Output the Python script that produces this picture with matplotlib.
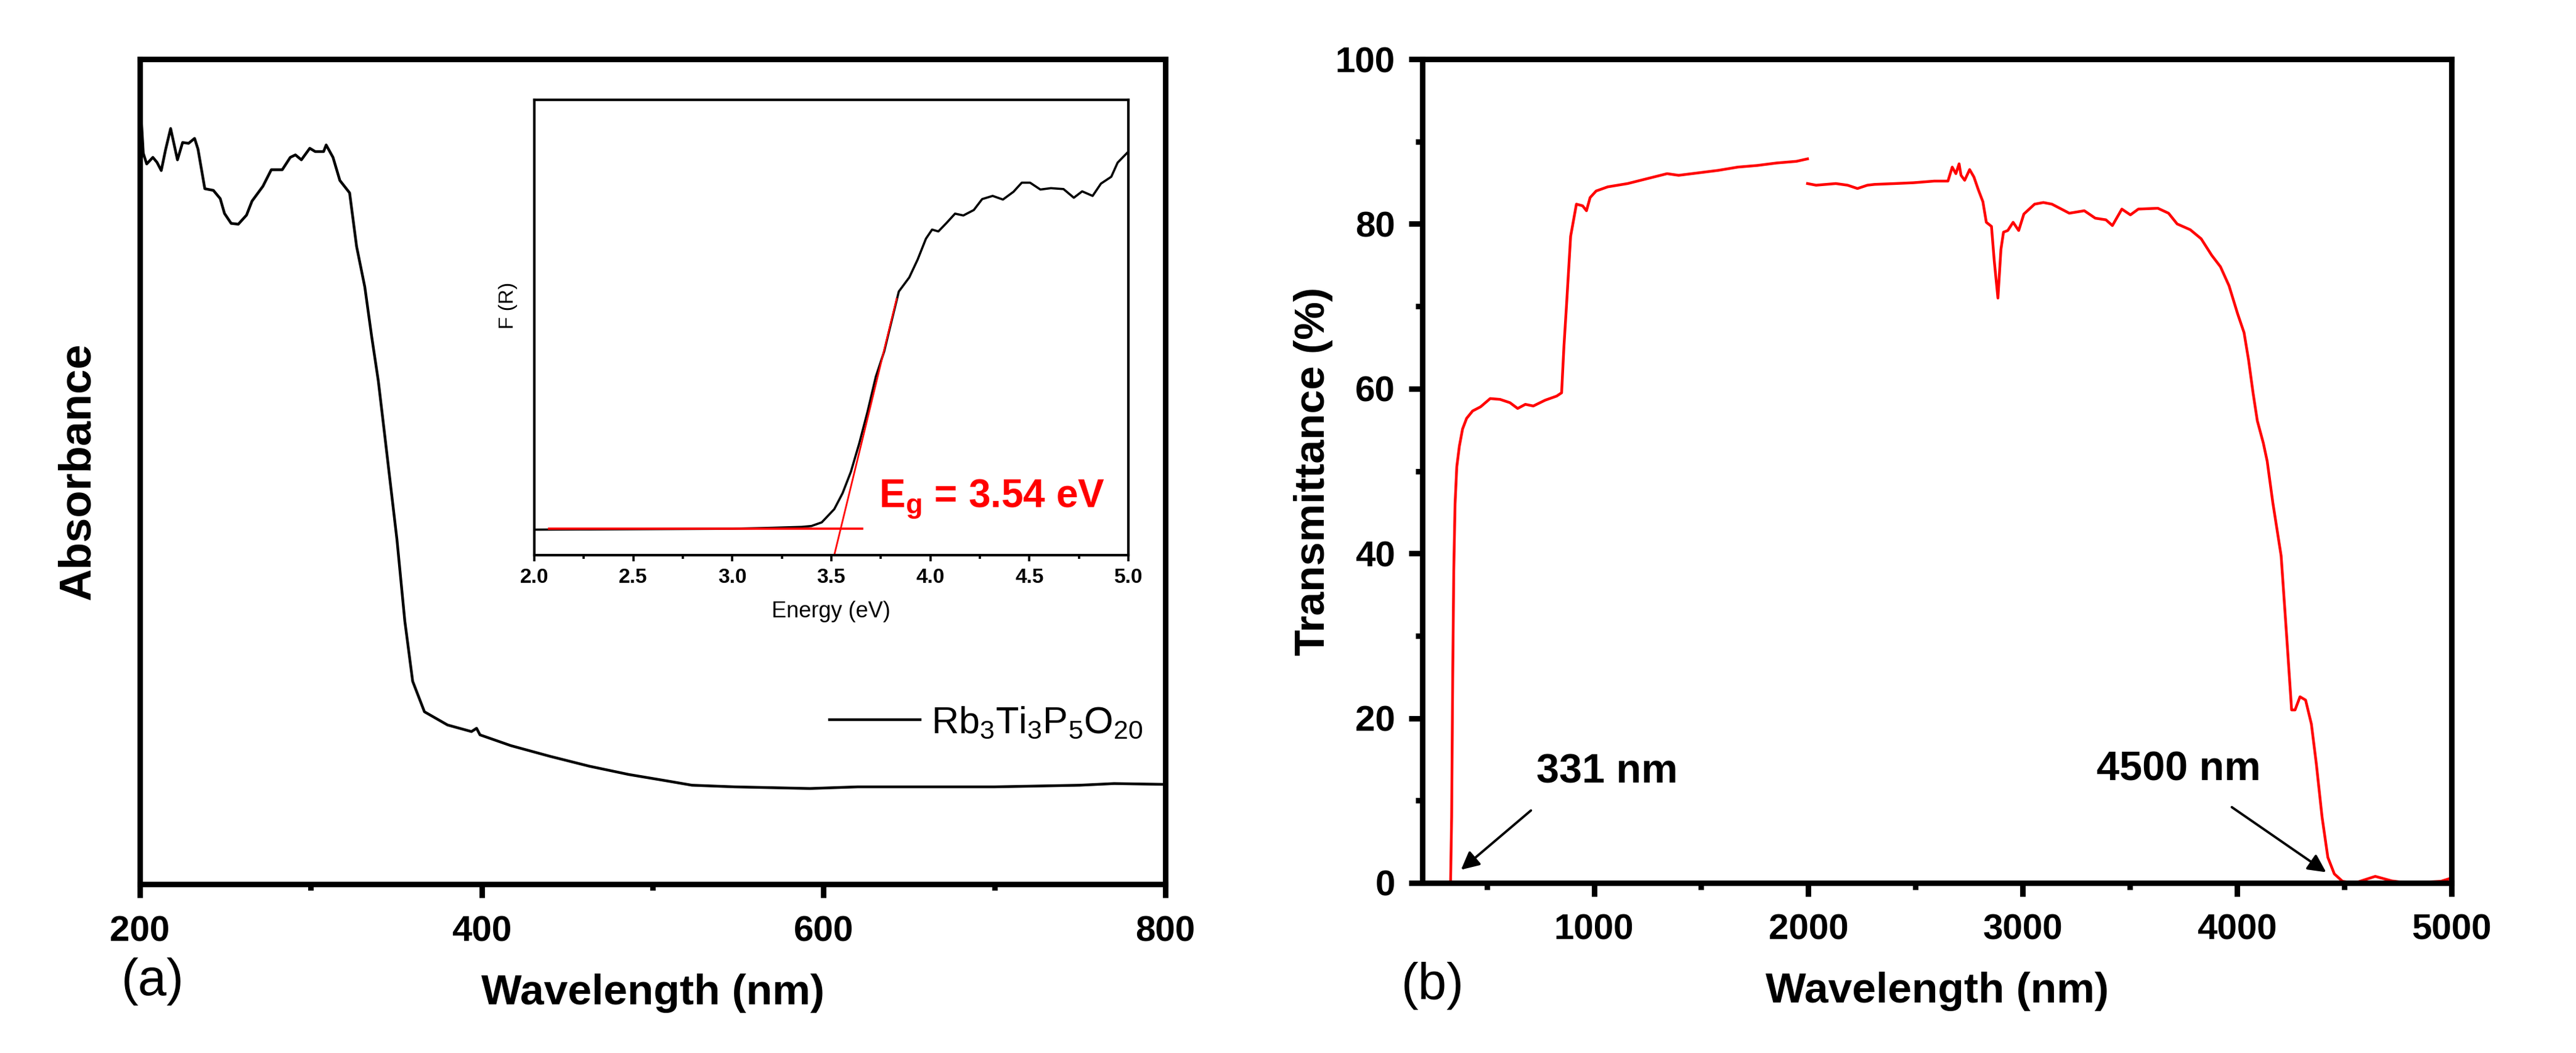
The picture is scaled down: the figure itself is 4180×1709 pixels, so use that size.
import numpy as np
import matplotlib.pyplot as plt
from matplotlib.ticker import MultipleLocator

plt.rcParams['font.family'] = ['Liberation Sans', 'DejaVu Sans']
plt.rcParams['mathtext.fontset'] = 'custom'
plt.rcParams['mathtext.rm'] = 'Liberation Sans'
plt.rcParams['mathtext.bf'] = 'Liberation Sans:bold'
plt.rcParams['mathtext.default'] = 'regular'

# =============================================================================
# (a) absorbance spectrum (arbitrary units)
# =============================================================================
wl_abs = [200, 201, 202, 204, 207.6, 210, 212.5, 215, 218, 222, 225, 228.5, 232, 234,
          238, 243, 247, 249.5, 253.4, 257.6, 262.4, 265.6, 272, 276.9, 283.3, 288,
          291, 294.5, 299.4, 302.6, 307.5, 309, 313, 317, 322.7, 326.8, 331.6, 335.6,
          339.5, 343.5, 350.4, 355, 359.6, 366.5, 380, 394, 397, 399, 417, 440, 463,
          486, 509, 523, 548, 592, 620, 654, 700, 750, 770, 800]
absorb = [0.93, 0.922, 0.886, 0.873, 0.881, 0.875, 0.865, 0.89, 0.916, 0.878, 0.899,
          0.898, 0.904, 0.891, 0.843, 0.841, 0.831, 0.813, 0.801, 0.80, 0.811, 0.828,
          0.846, 0.866, 0.866, 0.881, 0.884, 0.878, 0.892, 0.888, 0.888, 0.896, 0.881,
          0.853, 0.838, 0.773, 0.724, 0.664, 0.61, 0.54, 0.418, 0.319, 0.246, 0.209,
          0.193, 0.185, 0.189, 0.181, 0.168, 0.155, 0.143, 0.133, 0.125, 0.12, 0.118,
          0.116, 0.118, 0.118, 0.118, 0.12, 0.122, 0.121]
legenda_a = 'Rb$_3$Ti$_3$P$_5$O$_{20}$'

# inset: Kubelka-Munk F(R) vs energia (u.a.)
energia = [2.0, 2.5, 3.0, 3.2, 3.35, 3.40, 3.452, 3.515, 3.557, 3.599, 3.641, 3.683,
           3.725, 3.767, 3.81, 3.841, 3.894, 3.936, 3.978, 4.009, 4.041, 4.083, 4.125,
           4.167, 4.22, 4.262, 4.315, 4.367, 4.42, 4.462, 4.504, 4.556, 4.609, 4.673,
           4.725, 4.767, 4.82, 4.862, 4.914, 4.946, 5.0]
f_r = [0.056, 0.057, 0.058, 0.060, 0.062, 0.064, 0.072, 0.101, 0.136, 0.183, 0.245,
       0.315, 0.392, 0.447, 0.524, 0.579, 0.61, 0.649, 0.695, 0.715, 0.711, 0.73, 0.75,
       0.746, 0.758, 0.782, 0.789, 0.781, 0.798, 0.818, 0.818, 0.803, 0.806, 0.804,
       0.785, 0.799, 0.789, 0.816, 0.831, 0.862, 0.886]
base_x = [2.074, 3.656]
base_y = [0.058, 0.058]
tang_x = [3.515, 3.83]
tang_y = [0.0, 0.563]
EG = 3.54

# =============================================================================
# (b) transmitancia (%), dois segmentos com lacuna em 2000 nm
# =============================================================================
wl_t1 = [200, 331, 336, 341, 346, 352, 360, 372, 387, 406, 434, 471, 516, 562, 608,
         644, 680, 717, 772, 826, 849, 860, 872, 891, 918, 947, 965, 982, 1010, 1064,
         1157, 1249, 1341, 1395, 1487, 1579, 1671, 1762, 1852, 1944, 1996]
trans1 = [0, 0, 8, 25, 38, 46, 50.5, 53, 55.1, 56.4, 57.3, 57.8, 58.8, 58.7, 58.3,
          57.6, 58.1, 57.9, 58.6, 59.1, 59.5, 65.2, 70.2, 78.5, 82.4, 82.2, 81.6, 83.2,
          84.0, 84.5, 84.9, 85.5, 86.1, 85.9, 86.2, 86.5, 86.9, 87.1, 87.4, 87.6, 87.9]
wl_t2 = [1996, 2036, 2128, 2183, 2229, 2275, 2309, 2404, 2490, 2587, 2651, 2671, 2688,
         2703, 2712, 2729, 2752, 2772, 2792, 2814, 2830, 2854, 2867, 2884, 2898, 2910,
         2930, 2955, 2981, 3005, 3055, 3096, 3136, 3217, 3287, 3338, 3388, 3418, 3462,
         3502, 3539, 3630, 3680, 3720, 3781, 3832, 3881, 3922, 3962, 4002, 4032, 4053,
         4074, 4094, 4122, 4140, 4166, 4205, 4231, 4254, 4270, 4293, 4319, 4346, 4369,
         4396, 4423, 4453, 4491, 4549, 4644, 4721, 4797, 4950, 5000]
trans2 = [84.9, 84.7, 84.9, 84.7, 84.3, 84.7, 84.8, 84.9, 85.0, 85.2, 85.2, 86.9, 86.1,
          87.3, 85.9, 85.3, 86.6, 85.7, 84.2, 82.7, 80.2, 79.7, 75.5, 71.0, 76.9, 79.0,
          79.2, 80.2, 79.2, 81.2, 82.4, 82.6, 82.4, 81.3, 81.6, 80.7, 80.5, 79.8, 81.8,
          81.1, 81.8, 81.9, 81.3, 80.0, 79.3, 78.2, 76.2, 74.8, 72.5, 69.1, 66.8, 63.5,
          59.5, 56.1, 53.4, 51.2, 46.2, 39.7, 29.9, 21.0, 21.0, 22.6, 22.2, 19.3, 14.5,
          8.0, 3.1, 1.1, 0.2, 0, 0.8, 0.25, 0, 0.2, 0.6]

# rotulos das bordas de corte (texto, ponta da seta, inicio da seta, posicao do texto)
cortes = [('331 nm', (380, 1.6), (706, 8.8), (732, 13.4)),
          ('4500 nm', (4415, 1.3), (3975, 9.2), (3344, 13.7))]

LW_SPINE = 3.2


def negrito(ax):
    for lab in ax.get_xticklabels() + ax.get_yticklabels():
        lab.set_fontweight('bold')


fig = plt.figure(figsize=(20.9, 8.545), dpi=200)

# -------------------------- painel (a) --------------------------
ax1 = fig.add_axes([0.0543, 0.1603, 0.3981, 0.7835])
ax1.plot(wl_abs, absorb, '-', color='black', lw=1.6, label=legenda_a)
ax1.set_xlim(200, 800)
ax1.set_ylim(0, 1)
ax1.xaxis.set_major_locator(MultipleLocator(200))
ax1.xaxis.set_minor_locator(MultipleLocator(100))
ax1.tick_params(axis='x', which='major', direction='out', length=8, width=LW_SPINE,
                labelsize=21, pad=10)
ax1.tick_params(axis='x', which='minor', direction='out', length=3.5, width=LW_SPINE)
ax1.tick_params(axis='y', which='both', left=False, labelleft=False)
for s in ax1.spines.values():
    s.set_linewidth(LW_SPINE)
negrito(ax1)
ax1.set_xlabel('Wavelength (nm)', fontsize=25, fontweight='bold')
ax1.xaxis.set_label_coords(0.5, -0.108)
ax1.set_ylabel('Absorbance', fontsize=26, fontweight='bold')
ax1.yaxis.set_label_coords(-0.040, 0.5)
ax1.legend(loc='center left', bbox_to_anchor=(0.6725, 0.195), frameon=False,
           fontsize=22, handlelength=2.4, handletextpad=0.3, borderpad=0,
           borderaxespad=0)

# inset F(R)
axi = fig.add_axes([0.2074, 0.4728, 0.2306, 0.4324])
axi.plot(energia, f_r, '-', color='black', lw=1.3)
axi.plot(base_x, base_y, '-', color='red', lw=1.3)
axi.plot(tang_x, tang_y, '-', color='red', lw=1.0)
axi.text(3.74, 0.105, r'$\mathbf{E_g}$ = %.2f eV' % EG, color='red', fontsize=23,
         fontweight='bold', ha='left', va='baseline')
axi.set_xlim(2.0, 5.0)
axi.set_ylim(0, 1)
axi.xaxis.set_major_locator(MultipleLocator(0.5))
axi.xaxis.set_minor_locator(MultipleLocator(0.25))
axi.xaxis.set_major_formatter(plt.FormatStrFormatter('%.1f'))
axi.tick_params(axis='x', which='major', direction='out', length=3.5, width=1.3,
                labelsize=12, pad=4)
axi.tick_params(axis='x', which='minor', direction='out', length=2, width=1.3)
axi.tick_params(axis='y', which='both', left=False, labelleft=False)
for s in axi.spines.values():
    s.set_linewidth(1.5)
negrito(axi)
axi.set_xlabel('Energy (eV)', fontsize=13)
axi.xaxis.set_label_coords(0.5, -0.10)
axi.set_ylabel('F (R)', fontsize=12)
axi.yaxis.set_label_coords(-0.028, 0.548)

# -------------------------- painel (b) --------------------------
ax2 = fig.add_axes([0.5522, 0.1615, 0.3995, 0.7823])
ax2.plot(wl_t1, trans1, '-', color='red', lw=1.6)
ax2.plot(wl_t2, trans2, '-', color='red', lw=1.6)
for txt, ponta, inicio, pos in cortes:
    ax2.annotate('', xy=ponta, xytext=inicio,
                 arrowprops=dict(arrowstyle='-|>', color='black', lw=1.4,
                                 mutation_scale=22, shrinkA=0, shrinkB=0))
    ax2.text(pos[0], pos[1], txt, fontsize=24, fontweight='bold', ha='left',
             va='center')
ax2.set_xlim(200, 5000)
ax2.set_ylim(0, 100)
ax2.xaxis.set_major_locator(MultipleLocator(1000))
ax2.xaxis.set_minor_locator(MultipleLocator(500))
ax2.yaxis.set_major_locator(MultipleLocator(20))
ax2.yaxis.set_minor_locator(MultipleLocator(10))
ax2.tick_params(which='major', direction='out', length=8, width=LW_SPINE,
                labelsize=21, pad=8)
ax2.tick_params(which='minor', direction='out', length=4, width=LW_SPINE)
ax2.tick_params(axis='x', which='major', pad=10)
for s in ax2.spines.values():
    s.set_linewidth(LW_SPINE)
negrito(ax2)
ax2.set_xlabel('Wavelength (nm)', fontsize=25, fontweight='bold')
ax2.xaxis.set_label_coords(0.5, -0.108)
ax2.set_ylabel('Transmittance (%)', fontsize=25, fontweight='bold')
ax2.yaxis.set_label_coords(-0.087, 0.5)

fig.text(248 / 4180, 1 - 1593 / 1709, '(a)', fontsize=30, ha='center', va='center')
fig.text(2325 / 4180, 1 - 1600 / 1709, '(b)', fontsize=30, ha='center', va='center')

fig.savefig('out.png', dpi=200)
